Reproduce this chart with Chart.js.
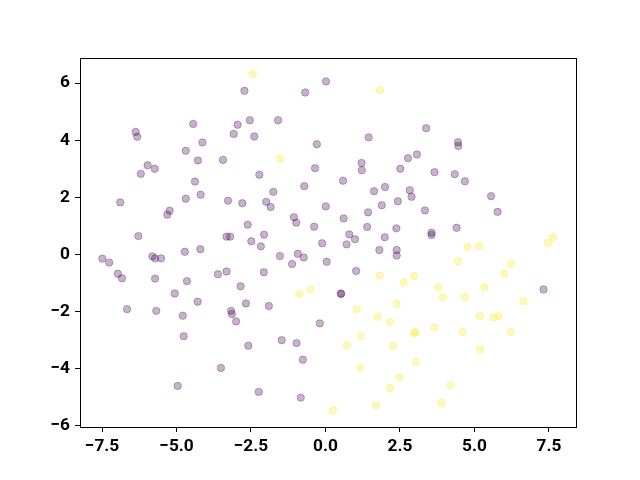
<!DOCTYPE html>
<html>
<head>
<meta charset="utf-8">
<script src="https://cdn.jsdelivr.net/npm/chart.js@4/dist/chart.umd.min.js"></script>
<style>
html,body{margin:0;padding:0;background:#fff;}
canvas{display:block;}
</style>
</head>
<body>
<canvas id="c" width="640" height="480"></canvas>
<script>
// Class 0 (purple) points
const class0X = [-2.72,-0.68,0.02,-6.37,-6.32,-4.44,-4.13,-4.69,-4.28,-5.97,-5.73,-6.20,-4.38,-2.54,-2.95,-1.59,-3.08,-2.39,-0.29,-3.44,-0.35,-2.22,1.45,3.38,1.21,1.22,2.77,3.07,2.51,3.66,0.59,4.45,4.46,4.34,4.68,-6.89,-4.69,-4.19,-5.23,-5.31,-6.28,-7.49,-7.26,-5.81,-5.72,-5.52,-4.72,-4.20,-6.97,-6.83,-5.72,-4.65,-5.06,-4.29,-3.27,-2.79,-1.75,-1.99,-1.84,-0.71,0.01,-1.06,-0.98,-0.38,-2.61,-2.06,-3.32,-3.20,-2.49,-2.17,-0.11,-1.53,-0.93,-0.73,-1.12,0.04,-3.61,-3.32,-2.07,-2.85,-2.67,-1.90,1.63,2.00,2.83,2.89,2.43,1.89,1.43,3.34,0.61,1.40,2.38,0.80,0.99,0.71,1.99,3.56,3.56,1.81,2.39,2.39,1.03,0.52,0.52,5.56,5.78,4.40,7.32,-6.66,-5.68,-4.79,-4.76,-4.96,-3.17,-3.14,-3.00,-0.19,-1.47,-0.97,-2.59,-0.76,-3.51,-2.24,-0.83];
const class0Y = [5.73,5.67,6.06,4.29,4.12,4.57,3.92,3.63,3.29,3.12,3.00,2.82,2.55,4.70,4.54,4.70,4.22,4.13,3.86,3.31,3.02,2.79,4.10,4.42,3.20,2.95,3.37,3.50,3.00,2.88,2.58,3.93,3.80,2.81,2.56,1.82,1.95,2.09,1.53,1.39,0.64,-0.15,-0.29,-0.07,-0.14,-0.14,0.09,0.18,-0.68,-0.84,-0.85,-0.94,-1.37,-1.66,1.88,1.79,2.19,1.84,1.66,2.39,1.68,1.30,1.11,0.97,1.04,0.69,0.62,0.62,0.46,0.28,0.39,-0.06,0.02,-0.11,-0.34,-0.26,-0.70,-0.60,-0.63,-1.12,-1.72,-1.81,2.21,2.36,2.25,2.02,1.86,1.72,1.47,1.54,1.26,0.96,0.91,0.70,0.53,0.35,0.60,0.76,0.68,0.15,0.15,-0.04,-0.58,-1.38,-1.38,2.04,1.49,0.93,-1.23,-1.92,-1.98,-2.15,-2.87,-4.61,-1.98,-2.09,-2.35,-2.42,-3.01,-3.11,-3.20,-3.69,-3.98,-4.82,-5.02];
// Class 1 (yellow) points
const class1X = [-2.44,-1.52,1.83,-0.88,-0.51,1.82,2.62,2.98,3.78,3.94,2.39,4.77,5.15,7.64,7.47,4.45,6.23,6.01,5.34,4.68,6.64,1.05,1.75,2.16,3.03,2.97,3.66,1.19,0.72,2.28,1.17,3.04,2.48,2.17,4.20,3.90,1.69,0.25,5.18,5.64,5.81,4.60,6.22,5.19];
const class1Y = [6.32,3.35,5.75,-1.39,-1.24,-0.74,-0.98,-0.76,-1.15,-1.51,-1.73,0.26,0.30,0.61,0.41,-0.25,-0.32,-0.67,-1.15,-1.50,-1.64,-1.92,-2.19,-2.37,-2.72,-2.77,-2.56,-2.87,-3.19,-3.21,-3.96,-3.78,-4.31,-4.69,-4.59,-5.21,-5.29,-5.46,-2.16,-2.21,-2.17,-2.72,-2.72,-3.33];
// Tick labels
const xTicks = [-7.5,-5.0,-2.5,0.0,2.5,5.0,7.5];
const yTicks = [-6,-4,-2,0,2,4,6];

const toPts = (xs, ys) => xs.map((x, i) => ({x: x, y: ys[i]}));
const minus = s => s.replace('-', '\u2212');

const frame = {
  id: 'frame',
  afterDraw(chart) {
    const a = chart.chartArea, ctx = chart.ctx;
    ctx.save();
    ctx.strokeStyle = '#000';
    ctx.lineWidth = 1;
    ctx.strokeRect(Math.round(a.left) + 0.5, Math.round(a.top) + 0.5,
                   Math.round(a.right - a.left), Math.round(a.bottom - a.top));
    ctx.restore();
  }
};

const tickFont = {family: 'Roboto', size: 17.3, weight: 'bold'};

new Chart(document.getElementById('c'), {
  type: 'scatter',
  data: {
    datasets: [
      {data: toPts(class0X, class0Y), backgroundColor: 'rgba(68,1,84,0.3)', borderColor: 'rgba(68,1,84,0.3)', borderWidth: 1, pointRadius: 3.7, pointHoverRadius: 3.7},
      {data: toPts(class1X, class1Y), backgroundColor: 'rgba(253,231,37,0.3)', borderColor: 'rgba(253,231,37,0.3)', borderWidth: 1, pointRadius: 3.7, pointHoverRadius: 3.7}
    ]
  },
  options: {
    responsive: false,
    animation: false,
    events: [],
    layout: {padding: {left: 0, top: 58, right: 64, bottom: 0}},
    plugins: {legend: {display: false}, tooltip: {enabled: false}},
    scales: {
      x: {
        type: 'linear', min: -8.24, max: 8.41,
        afterBuildTicks: s => { s.ticks = xTicks.map(v => ({value: v})); },
        afterFit: s => { s.height = 53; },
        ticks: {color: '#000', font: tickFont, padding: 4, maxRotation: 0, autoSkip: false,
                callback: v => minus(Number(v).toFixed(1))},
        grid: {drawOnChartArea: false, drawTicks: true, tickLength: 5, tickColor: '#000'},
        border: {display: true, color: '#000', width: 1}
      },
      y: {
        type: 'linear', min: -6.05, max: 6.88,
        afterBuildTicks: s => { s.ticks = yTicks.map(v => ({value: v})); },
        afterFit: s => { s.width = 80; },
        ticks: {color: '#000', font: tickFont, padding: 5, autoSkip: false,
                callback: v => minus(String(Math.round(v)))},
        grid: {drawOnChartArea: false, drawTicks: true, tickLength: 5, tickColor: '#000'},
        border: {display: true, color: '#000', width: 1}
      }
    }
  },
  plugins: [frame]
});
</script>
</body>
</html>
